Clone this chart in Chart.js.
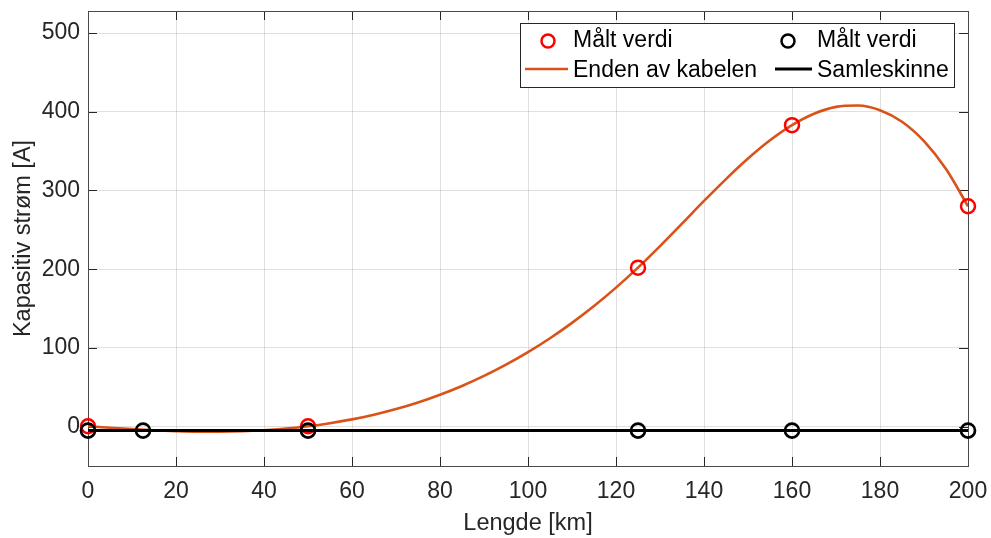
<!DOCTYPE html>
<html>
<head>
<meta charset="utf-8">
<script src="https://cdn.jsdelivr.net/npm/chart.js@4/dist/chart.umd.min.js"></script>
<style>
  html, body { margin: 0; padding: 0; background: #fff; }
  #wrap { width: 991px; height: 538px; position: relative; }
</style>
</head>
<body>
<div id="wrap"><canvas id="c"></canvas></div>
<script>
// Measured capacitive current at the cable end (red) and at the busbar (black)
const endLengths   = [0, 50, 125, 160, 200];
const endCurrent   = [0.5, 0.5, 202, 383, 280];

const busLengths   = [0, 12.5, 50, 125, 160, 200];
const busCurrent   = [-5, -5, -5, -5, -5, -5];

// Smooth curve along the cable end, sampled every 5 km
const curveLengths = [0, 5, 10, 15, 20, 25, 30, 35, 40, 45, 50, 55, 60, 65, 70, 75, 80, 85, 90, 95,
                      100, 105, 110, 115, 120, 125, 130, 135, 140, 145, 150, 155, 160, 165, 170, 175,
                      180, 185, 190, 195, 200];
const curveCurrent = [0.5, -1.5, -3.2, -4.6, -5.7, -6.3, -6.3, -5.8, -4.5, -2.4, 0.5, 4.4, 9.2, 15.2,
                      22.4, 30.8, 40.6, 51.7, 64.4, 78.7, 94.6, 112.3, 131.8, 153.2, 176.6, 202,
                      229.4, 257.9, 286.7, 314.5, 340.5, 363.7, 383, 397.5, 406.2, 408.0, 402.0,
                      387.3, 362.6, 327.2, 280];

const xTicks = [0, 20, 40, 60, 80, 100, 120, 140, 160, 180, 200];
const yTicks = [0, 100, 200, 300, 400, 500];

const legendLabels = ['Målt verdi', 'Målt verdi', 'Enden av kabelen', 'Samleskinne'];

const FONT = "'Liberation Sans', Arial, Helvetica, sans-serif";
const ORANGE = '#D95319';
const AXIS = '#262626';

const pts = (xs, ys) => xs.map((x, i) => ({ x, y: ys[i] }));

// Keep the plot area where the layout padding puts it
function noLabelPadding(s) {
  s.paddingLeft = 0; s.paddingRight = 0; s.paddingTop = 0; s.paddingBottom = 0;
}

// Axes box with inward tick marks on all four sides
const boxPlugin = {
  id: 'box',
  beforeDatasetsDraw(chart) {
    const { ctx, chartArea: a, scales: { x, y } } = chart;
    ctx.save();
    ctx.strokeStyle = AXIS;
    ctx.lineWidth = 1;
    const tl = 9;
    ctx.beginPath();
    xTicks.forEach(v => {
      const px = Math.round(x.getPixelForValue(v)) + 0.5;
      ctx.moveTo(px, a.bottom); ctx.lineTo(px, a.bottom - tl);
      ctx.moveTo(px, a.top); ctx.lineTo(px, a.top + tl);
    });
    yTicks.forEach(v => {
      const py = Math.round(y.getPixelForValue(v)) + 0.5;
      ctx.moveTo(a.left, py); ctx.lineTo(a.left + tl, py);
      ctx.moveTo(a.right, py); ctx.lineTo(a.right - tl, py);
    });
    ctx.stroke();
    ctx.strokeStyle = '#4a4a4a';
    ctx.strokeRect(Math.round(a.left) + 0.5, Math.round(a.top) + 0.5,
                   Math.round(a.right - a.left), Math.round(a.bottom - a.top));
    ctx.restore();
  }
};

// Two-column legend in the upper right corner
const legendPlugin = {
  id: 'twoColLegend',
  afterDraw(chart) {
    const { ctx } = chart;
    const bx = 520, by = 23, bw = 434, bh = 64;
    ctx.save();
    ctx.fillStyle = '#fff';
    ctx.fillRect(bx, by, bw, bh);
    ctx.strokeStyle = AXIS;
    ctx.lineWidth = 1;
    ctx.strokeRect(bx + 0.5, by + 0.5, bw, bh);

    ctx.font = '23px ' + FONT;
    ctx.fillStyle = '#000';
    ctx.textBaseline = 'middle';
    ctx.textAlign = 'left';

    const r1 = 41, r2 = 71;
    // row 1: markers
    ctx.lineWidth = 2.5;
    ctx.strokeStyle = '#FF0000';
    ctx.beginPath(); ctx.arc(548, r1, 6.5, 0, Math.PI * 2); ctx.stroke();
    ctx.strokeStyle = '#000';
    ctx.beginPath(); ctx.arc(788, r1, 6.5, 0, Math.PI * 2); ctx.stroke();
    ctx.fillText(legendLabels[0], 573, r1);
    ctx.fillText(legendLabels[1], 817, r1);
    // row 2: lines
    ctx.strokeStyle = ORANGE;
    ctx.beginPath(); ctx.moveTo(525, r2 - 2); ctx.lineTo(568, r2 - 2); ctx.stroke();
    ctx.strokeStyle = '#000';
    ctx.lineWidth = 3;
    ctx.beginPath(); ctx.moveTo(775, r2 - 2); ctx.lineTo(812, r2 - 2); ctx.stroke();
    ctx.fillText(legendLabels[2], 573, r2);
    ctx.fillText(legendLabels[3], 817, r2);
    ctx.restore();
  }
};

new Chart(document.getElementById('c'), {
  type: 'scatter',
  data: {
    datasets: [
      {
        label: legendLabels[2],
        type: 'line',
        data: pts(curveLengths, curveCurrent),
        borderColor: ORANGE,
        borderWidth: 2.6,
        pointRadius: 0,
        cubicInterpolationMode: 'monotone',
        fill: false,
        order: 4
      },
      {
        label: legendLabels[0],
        data: pts(endLengths, endCurrent),
        showLine: false,
        pointRadius: 7,
        pointBorderWidth: 2.5,
        pointBorderColor: '#FF0000',
        pointBackgroundColor: 'rgba(0,0,0,0)',
        clip: false,
        order: 3
      },
      {
        label: legendLabels[3],
        type: 'line',
        data: pts(busLengths, busCurrent),
        borderColor: '#000',
        borderWidth: 3,
        pointRadius: 0,
        tension: 0,
        fill: false,
        order: 2
      },
      {
        label: legendLabels[1],
        data: pts(busLengths, busCurrent),
        showLine: false,
        pointRadius: 7,
        pointBorderWidth: 2.7,
        pointBorderColor: '#000',
        pointBackgroundColor: 'rgba(0,0,0,0)',
        clip: false,
        order: 1
      }
    ]
  },
  options: {
    responsive: true,
    maintainAspectRatio: false,
    animation: false,
    devicePixelRatio: 1,
    layout: { padding: { left: 0, right: 23, top: 11, bottom: 0 } },
    plugins: { legend: { display: false }, tooltip: { enabled: false } },
    scales: {
      x: {
        type: 'linear',
        min: 0, max: 200,
        afterBuildTicks: s => { s.ticks = xTicks.map(v => ({ value: v })); },
        afterFit: s => { s.height = 72; noLabelPadding(s); },
        grid: { color: 'rgba(0,0,0,0.12)', lineWidth: 1, drawTicks: false },
        border: { display: false },
        ticks: { color: AXIS, font: { family: FONT, size: 23 }, padding: 12, maxRotation: 0 },
        title: { display: true, text: 'Lengde [km]', color: AXIS,
                 font: { family: FONT, size: 23.5 }, padding: { top: 0, bottom: 0 } }
      },
      y: {
        type: 'linear',
        min: -50, max: 528,
        afterBuildTicks: s => { s.ticks = yTicks.map(v => ({ value: v })); },
        afterFit: s => { s.width = 88; noLabelPadding(s); },
        grid: { color: 'rgba(0,0,0,0.12)', lineWidth: 1, drawTicks: false },
        border: { display: false },
        ticks: { color: AXIS, font: { family: FONT, size: 23 }, padding: 8 },
        title: { display: true, text: 'Kapasitiv strøm [A]', color: AXIS,
                 font: { family: FONT, size: 23.5 }, padding: { top: 9, bottom: 0 } }
      }
    }
  },
  plugins: [boxPlugin, legendPlugin]
});
</script>
</body>
</html>
